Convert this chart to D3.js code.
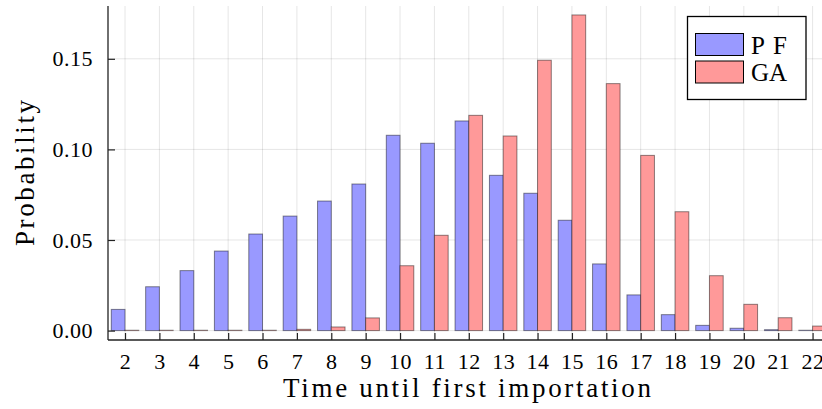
<!DOCTYPE html>
<html>
<head>
<meta charset="utf-8">
<script src="https://cdn.jsdelivr.net/npm/d3@7"></script>
<style>
  html, body { margin: 0; padding: 0; background: #fff; }
  svg { display: block; }
  text { font-family: "Liberation Serif", "DejaVu Serif", serif; fill: #000; }
</style>
</head>
<body>
<svg id="chart" width="822" height="409"></svg>
<script>
// Time steps until the first importation
const times = [2, 3, 4, 5, 6, 7, 8, 9, 10, 11, 12, 13, 14, 15, 16, 17, 18, 19, 20, 21, 22];

// Probability of each time step, per method
const pfValues = [0.0117, 0.0242, 0.0331, 0.0439, 0.0533, 0.0632, 0.0715, 0.0809, 0.1078, 0.1034,
                  0.1157, 0.0857, 0.0758, 0.0609, 0.0368, 0.0197, 0.0088, 0.0029, 0.0013, 0.0005, 0.0002];
const gaValues = [0.0002, 0.0002, 0.0002, 0.0002, 0.0002, 0.0007, 0.0020, 0.0070, 0.0358, 0.0526,
                  0.1188, 0.1074, 0.1492, 0.1742, 0.1363, 0.0967, 0.0656, 0.0303, 0.0145, 0.0071, 0.0025];

const seriesNames = ["PF", "GA"];
const yTicks = [0.00, 0.05, 0.10, 0.15];

const svg = d3.select("#chart");

const plot = { left: 108, right: 829.6, top: 6, bottom: 340 };

const x = d3.scaleLinear().domain([1.505, 22.495]).range([plot.left, plot.right]);
const y = d3.scaleLinear().domain([-0.00519, 0.17914]).range([plot.bottom, plot.top]);

const barWidth = 0.4;
const fills = { PF: "rgb(153,153,255)", GA: "rgb(255,153,153)" };

// grid
const grid = svg.append("g").attr("stroke", "rgba(0,0,0,0.1)").attr("stroke-width", 1);
grid.selectAll("line.v").data(times).join("line")
  .attr("x1", d => x(d)).attr("x2", d => x(d))
  .attr("y1", plot.top).attr("y2", plot.bottom);
grid.selectAll("line.h").data(yTicks).join("line")
  .attr("x1", plot.left).attr("x2", plot.right)
  .attr("y1", d => y(d)).attr("y2", d => y(d));

// bars: PF to the left of each tick, GA to the right
const rows = times.map((t, i) => ({ t, PF: pfValues[i], GA: gaValues[i] }));
const bars = svg.append("g");
seriesNames.forEach((name, k) => {
  bars.append("g").selectAll("rect").data(rows).join("rect")
    .attr("x", d => k === 0 ? x(d.t - barWidth) : x(d.t))
    .attr("width", x(barWidth) - x(0))
    .attr("y", d => y(d[name]))
    .attr("height", d => y(0) - y(d[name]))
    .attr("fill", fills[name])
    .attr("stroke", "rgba(0,0,0,0.45)")
    .attr("stroke-width", 1);
});

// axes
const xAxis = d3.axisBottom(x).tickValues(times).tickSize(-7).tickPadding(13).tickFormat(d3.format("d"));
const gx = svg.append("g").attr("transform", `translate(0,${plot.bottom})`).call(xAxis);
const yAxis = d3.axisLeft(y).tickValues(yTicks).tickSize(-7).tickPadding(15).tickFormat(d3.format(".2f"));
const gy = svg.append("g").attr("transform", `translate(${plot.left},0)`).call(yAxis);

[gx, gy].forEach(g => {
  g.select(".domain").attr("stroke", "#222").attr("stroke-width", 1.3);
  g.selectAll(".tick line").attr("stroke", "#222").attr("stroke-width", 1.2);
  g.selectAll(".tick text").attr("font-family", "Liberation Serif, serif").attr("font-size", 22)
    .attr("letter-spacing", "0.5px");
});
gx.select(".domain").attr("d", `M${plot.left},0H${822}`);
gy.select(".domain").attr("d", `M0,${plot.top}V${plot.bottom}`);

// axis titles
svg.append("text")
  .attr("x", 467).attr("y", 397)
  .attr("text-anchor", "middle")
  .attr("font-size", 27)
  .attr("textLength", 368).attr("lengthAdjust", "spacing")
  .text("Time until first importation");

svg.append("text")
  .attr("transform", "translate(34,173) rotate(-90)")
  .attr("text-anchor", "middle")
  .attr("font-size", 27)
  .attr("textLength", 146).attr("lengthAdjust", "spacing")
  .text("Probability");

// legend
const legend = svg.append("g");
legend.append("rect")
  .attr("x", 687.5).attr("y", 16.5).attr("width", 118.5).attr("height", 83)
  .attr("fill", "#fff").attr("stroke", "#000").attr("stroke-width", 1.3);
seriesNames.forEach((name, i) => {
  legend.append("rect")
    .attr("x", 695.5).attr("y", 33.5 + i * 27.5).attr("width", 48).attr("height", 22)
    .attr("fill", fills[name]).attr("stroke", "#000").attr("stroke-width", 1);
  legend.append("text")
    .attr("x", 751).attr("y", 53.5 + i * 27.5)
    .attr("font-size", 25)
    .attr("textLength", 36).attr("lengthAdjust", "spacing")
    .text(name);
});
</script>
</body>
</html>
